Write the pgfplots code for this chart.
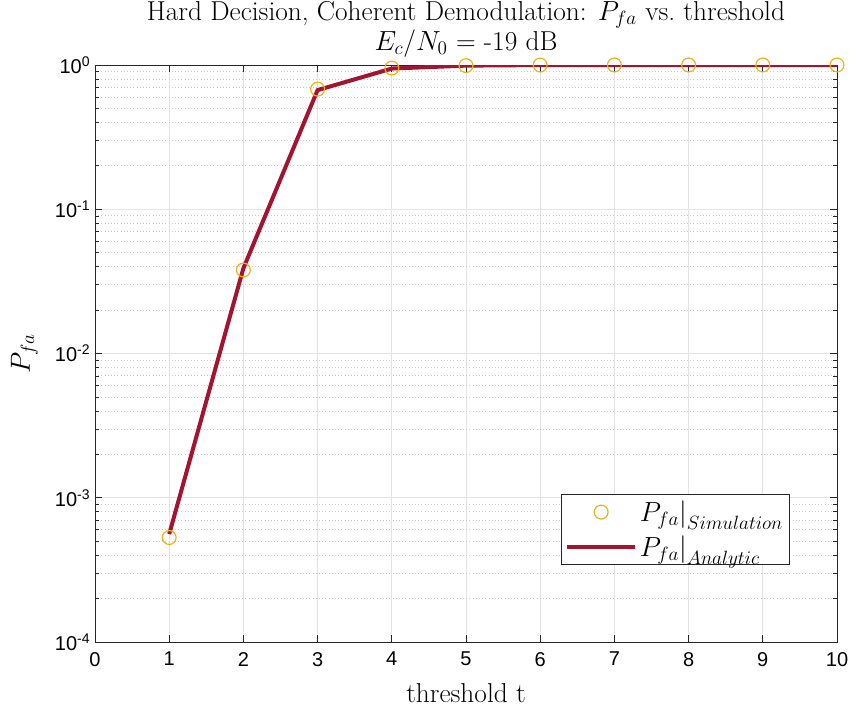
\documentclass[border=0pt]{standalone}
\usepackage{pgfplots}
\pgfplotsset{compat=1.18}
\usepackage{fontspec}
\newfontfamily\helv{Liberation Sans}
\definecolor{mred}{rgb}{0.635,0.078,0.184}
\definecolor{myel}{rgb}{0.929,0.694,0.125}
\definecolor{axg}{rgb}{0.15,0.15,0.15}
\newcommand\tp[1]{10\textsuperscript{#1}}
\begin{document}
\begin{tikzpicture}
\path[use as bounding box] (-71.25pt,-50.25pt) rectangle (566.25pt,481.5pt);
\begin{axis}[
  at={(0,0)}, anchor=south west,
  scale only axis,
  width=556.5pt, height=432.75pt,
  ymode=log,
  xmin=0, xmax=10, ymin=1e-4, ymax=1,
  xtick={0,1,...,10},
  ytick={1e-4,1e-3,1e-2,1e-1,1},
  yticklabels={\tp{-4},\tp{-3},\tp{-2},\tp{-1},\tp{0}},
  xticklabel style={font=\helv\fontsize{15}{17}\selectfont, yshift=-4pt},
  yticklabel style={font=\helv\fontsize{15}{17}\selectfont},
  /pgf/number format/assume math mode=true,
  tick align=inside,
  tick pos=both,
  major tick length=5pt,
  minor tick length=3pt,
  every tick/.style={axg, line width=0.5pt},
  axis line style={axg, line width=0.6pt},
  grid=both,
  major grid style={gray!22, line width=0.6pt},
  minor grid style={gray!40, dotted, line width=0.6pt},
  xlabel={threshold t},
  ylabel={$P_{fa}$},
  label style={font=\fontsize{20.5}{23}\selectfont},
  xlabel style={yshift=-6pt},
  ylabel style={yshift=6pt},
  title={Hard Decision, Coherent Demodulation: $P_{fa}$ vs.\ threshold\\$E_c/N_0$ = -19 dB},
  title style={font=\fontsize{20.5}{21}\selectfont, align=center, yshift=-4pt},
  legend style={at={(0.937,0.133)}, anchor=south east, draw=axg, line width=0.6pt,
     font=\fontsize{20.5}{23}\selectfont, row sep=5pt, inner sep=3pt},
  legend cell align=left,
  legend image code/.code={\draw[mark repeat=2,mark phase=2] plot coordinates {(0cm,0cm) (0.9cm,0cm) (1.8cm,0cm)};},
]
\addplot[only marks, mark=o, mark size=5.2pt, myel, mark options={line width=0.9pt}]
  coordinates {(1,5.3e-4) (2,0.0379) (3,0.68) (4,0.953) (5,0.99) (6,0.999) (7,1) (8,1) (9,1) (10,1)};
\addlegendentry{$P_{fa}\big|_{Simulation}$}
\addplot[mred, line width=3pt, no marks]
  coordinates {(1,5.6e-4) (2,0.039) (3,0.67) (4,0.945) (5,0.99) (6,0.999) (7,1) (8,1) (9,1) (10,1)};
\addlegendentry{$P_{fa}\big|_{Analytic}$}
\end{axis}
\end{tikzpicture}
\end{document}
